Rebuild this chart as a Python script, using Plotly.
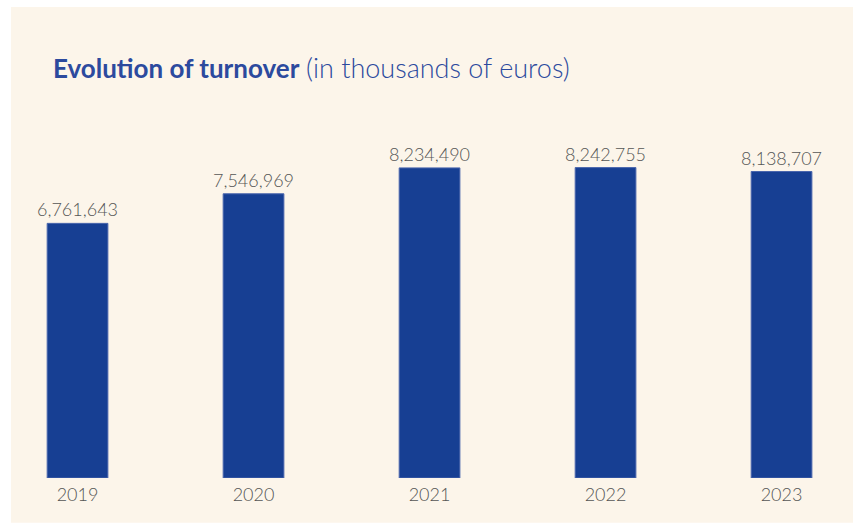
import plotly.graph_objects as go

years = ["2019", "2020", "2021", "2022", "2023"]
turnover = [6761643, 7546969, 8234490, 8242755, 8138707]
value_labels = [f"{v:,}" for v in turnover]

BAR_COLOR = "#173f93"
PANEL = "#fcf5ea"
TITLE_BLUE = "#2c4a9e"
LABEL_GREY = "#555555"

fig = go.Figure(
    go.Bar(
        x=years,
        y=turnover,
        text=value_labels,
        textposition="outside",
        constraintext="none",
        textfont=dict(family="Lato", size=18, color=LABEL_GREY, weight=300),
        marker=dict(color=BAR_COLOR, line=dict(color="#4a66ad", width=1)),
        width=0.345,
        cliponaxis=False,
    )
)

fig.update_layout(
    width=853,
    height=523,
    margin=dict(l=11, r=0, t=7, b=45),
    paper_bgcolor="white",
    plot_bgcolor=PANEL,
    showlegend=False,
    title=dict(
        text="<b>Evolution of turnover</b> <span style='font-weight:300;font-size:27px'>(in thousands of euros)</span>",
        font=dict(family="Lato", size=26, color=TITLE_BLUE),
        xref="container",
        yref="container",
        x=53 / 853,
        xanchor="left",
        y=1 - 69 / 523,
        yanchor="middle",
    ),
    shapes=[
        dict(
            type="rect",
            xref="paper",
            yref="paper",
            x0=0,
            x1=1,
            y0=-0.095,
            y1=1,
            fillcolor=PANEL,
            line=dict(width=0),
            layer="below",
        )
    ],
)

fig.update_xaxes(
    type="category",
    range=[-0.378, 4.406],
    showgrid=False,
    zeroline=False,
    showline=False,
    ticks="",
    ticklabelstandoff=4,
    tickfont=dict(family="Lato", size=18, color=LABEL_GREY, weight=300),
)
fig.update_yaxes(
    range=[0, 12.507e6],
    visible=False,
    showgrid=False,
    zeroline=False,
)

fig.write_html("out.html")
